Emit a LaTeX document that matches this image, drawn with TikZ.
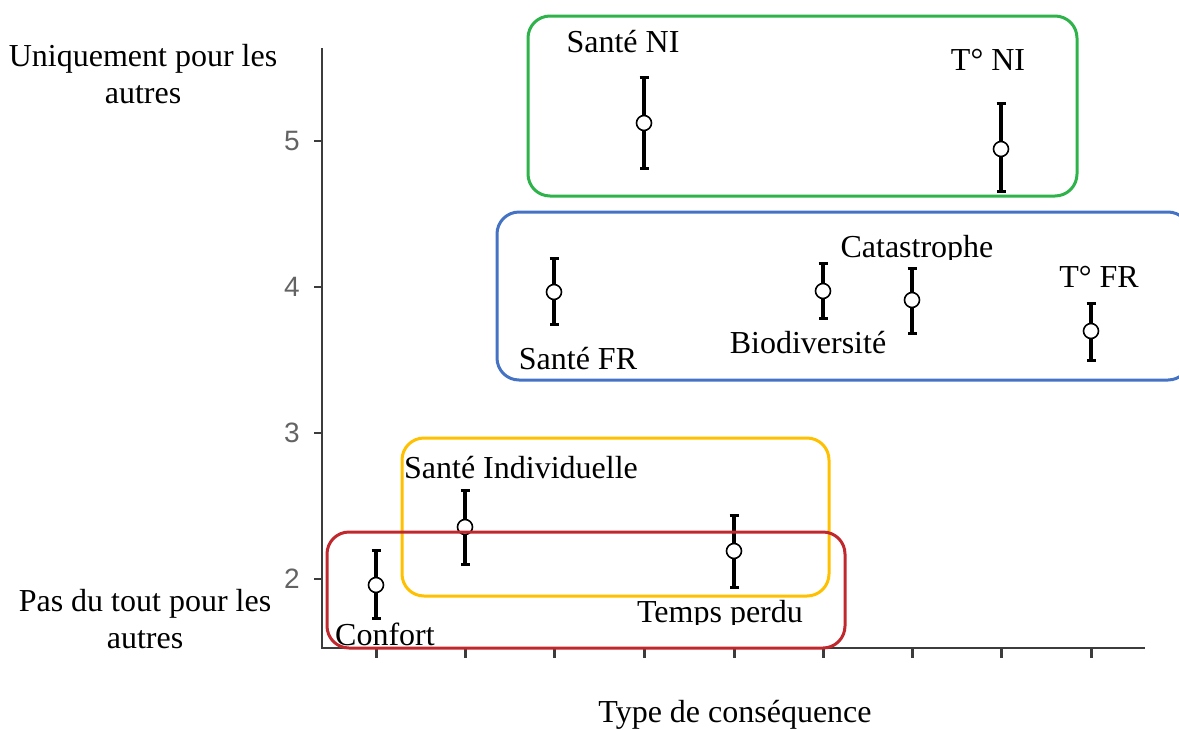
\documentclass[tikz,border=0pt]{standalone}
\usepackage{fontspec}
\setmainfont{Liberation Serif}
\newfontfamily\ticksans{Liberation Sans}
\usetikzlibrary{arrows.meta}
\definecolor{grpgreen}{HTML}{2DB34A}
\definecolor{grpblue}{HTML}{4472C4}
\definecolor{grpyellow}{HTML}{FFC000}
\definecolor{grpred}{HTML}{C0282D}
\definecolor{axisgray}{HTML}{3C3C3C}

\begin{document}
\begin{tikzpicture}[x=0.5pt, y=-0.5pt,
    lbl/.style = {anchor=base, inner sep=0pt, font=\fontsize{16}{18.5}\selectfont},
    ticklbl/.style = {inner sep=0pt, text=axisgray!80, font=\ticksans\fontsize{14}{14}\selectfont},
    grp/.style = {draw, line width=1.5pt, rounded corners=11pt},
    errbar/.style = {line width=1.7pt, {Bar[width=4.5pt,line width=1.3pt]}-{Bar[width=4.5pt,line width=1.3pt]}},
    mean/.style = {draw, circle, fill=white, minimum size=7.5pt, inner sep=0pt, line width=0.8pt}]
    \useasboundingbox (0,0) rectangle (1179,729);

    % axes
    \coordinate (ytop) at (322,48);
    \coordinate (orig) at (322,648);
    \coordinate (xend) at (1145,648);
    \draw[axisgray, line width=1pt] (ytop) -- (orig) -- (xend);
    \foreach \v/\y in {5/141, 4/287, 3/433, 2/579} {
        \draw[axisgray, line width=1.2pt] (314,\y) -- (322,\y);
        \node[ticklbl] (t\v) at (292,\y) {\v};
    }
    \foreach \x in {376, 465, 554, 644, 734, 823, 912, 1001, 1091}
        \draw[axisgray, line width=1.5pt] (\x,648) -- (\x,658);

    % error bars and means
    \foreach \i/\x/\m/\t/\b in {1/376/585/549/620, 2/465/527/489/566, 3/554/292/257/326,
                                4/644/123/76/170, 5/734/551/514/589, 6/823/291/262/320,
                                7/912/300/267/335, 8/1001/149/102/193, 9/1091/331/302/362} {
        \coordinate (hi\i) at (\x,\t);
        \coordinate (lo\i) at (\x,\b);
        \draw[errbar] (hi\i) -- (lo\i);
        \node[mean] (m\i) at (\x,\m) {};
    }

    % groups
    \draw[grp, grpgreen] (528,16) rectangle (1077,196);
    \draw[grp, grpblue] (497,212) rectangle (1190,380);
    \draw[grp, grpyellow] (402,438) rectangle (829,596);
    \draw[grp, grpred] (327,532) rectangle (845,648);

    % labels
    \node[lbl] (snilbl) at (623,52) {Santé NI};
    \node[lbl] (tnilbl) at (988,70) {T° NI};
    \begin{scope}
        \clip (820,225) rectangle (1010,259);
        \node[lbl] (catlbl) at (917,257) {Catastrophe};
    \end{scope}
    \node[lbl] (tfrlbl) at (1099,287) {T° FR};
    \node[lbl] (sfrlbl) at (578,369) {Santé FR};
    \node[lbl] (biolbl) at (808,353) {Biodiversité};
    \node[lbl] (silbl) at (521,478) {Santé Individuelle};
    \begin{scope}
        \clip (620,590) rectangle (820,624);
        \node[lbl] (tplbl) at (720,622) {Temps perdu};
    \end{scope}
    \node[lbl] (conflbl) at (385,645) {Confort};

    \node[lbl, align=center] (toplbl) at (143,103) {Uniquement pour les\\autres};
    \node[lbl, align=center] (botlbl) at (145,648) {Pas du tout pour les\\autres};
    \node[lbl] (xlbl) at (735,722) {Type de conséquence};
\end{tikzpicture}
\end{document}
